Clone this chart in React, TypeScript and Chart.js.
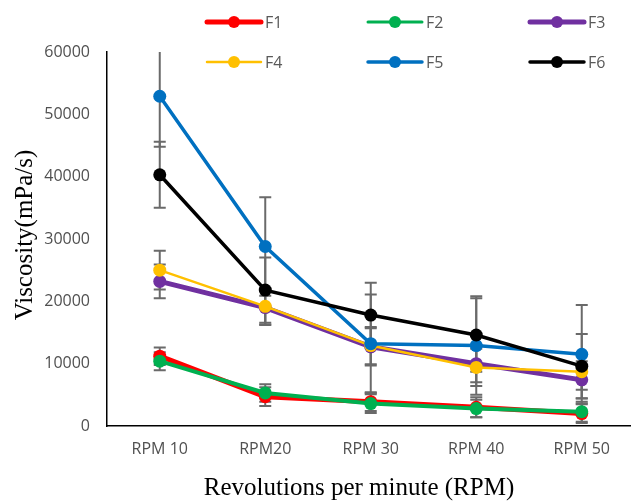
import React, { useEffect, useRef } from "react";
import { Chart, registerables } from "chart.js";

Chart.register(...registerables);

const categories = ["RPM 10", "RPM20", "RPM 30", "RPM 40", "RPM 50"];
const seriesNames = ["F1", "F2", "F3", "F4", "F5", "F6"];
const F1 = [11200, 4700, 3900, 3000, 2000];
const F2 = [10400, 5300, 3600, 2800, 2300];
const F3 = [23200, 19000, 12700, 10000, 7400];
const F4 = [25000, 19200, 12900, 9400, 8700];
const F5 = [52900, 28800, 13200, 12900, 11500];
const F6 = [40300, 21800, 17800, 14600, 9600];
const F1err = [1400, 1500, 1500, 1600, 1500];
const F2err = [1450, 1400, 1500, 1400, 1600];
const F3err = [2700, 2800, 3000, 3000, 3000];
const F4err = [3100, 2900, 3000, 3000, 2900];
const F5err = [8100, 7900, 7900, 7900, 7900];
const F6err = [5300, 5250, 5200, 5900, 5150];
const yTicks = [0, 10000, 20000, 30000, 40000, 50000, 60000];

const values = [F1, F2, F3, F4, F5, F6];
const errors = [F1err, F2err, F3err, F4err, F5err, F6err];
const colors = ["#FF0000", "#00B050", "#7030A0", "#FFC000", "#0070C0", "#000000"];
const lineWidths = [5, 4, 5, 2.5, 3.5, 3.5];
const legendLineWidths = [5, 3, 5, 2.5, 3.5, 3.5];

const errorBarPlugin = {
  id: "errorBars",
  beforeDatasetsDraw(chart: any) {
    const { ctx, chartArea } = chart;
    const yScale = chart.scales.y;
    ctx.save();
    ctx.beginPath();
    ctx.rect(chartArea.left, chartArea.top, chartArea.right - chartArea.left, chartArea.bottom - chartArea.top);
    ctx.clip();
    ctx.strokeStyle = "#6a6a6a";
    ctx.lineWidth = 2;
    chart.data.datasets.forEach((ds: any, di: number) => {
      const meta = chart.getDatasetMeta(di);
      const errs = ds.errors as number[];
      meta.data.forEach((pt: any, i: number) => {
        const v = ds.data[i];
        const e = errs[i];
        const x = pt.x;
        const yTop = yScale.getPixelForValue(v + e);
        const yBot = yScale.getPixelForValue(v - e);
        ctx.beginPath();
        ctx.moveTo(x, yTop);
        ctx.lineTo(x, yBot);
        ctx.moveTo(x - 6, yTop);
        ctx.lineTo(x + 6, yTop);
        ctx.moveTo(x - 6, yBot);
        ctx.lineTo(x + 6, yBot);
        ctx.stroke();
      });
    });
    ctx.restore();
  },
};

const decorPlugin = {
  id: "decor",
  afterDraw(chart: any) {
    const { ctx } = chart;
    ctx.save();
    // legend
    const colX = [207, 368, 530];
    const rowY = [22, 62];
    chart.data.datasets.forEach((ds: any, i: number) => {
      const x0 = colX[i % 3];
      const y = rowY[Math.floor(i / 3)];
      ctx.strokeStyle = ds.borderColor;
      ctx.lineWidth = legendLineWidths[i];
      ctx.lineCap = "round";
      ctx.beginPath();
      ctx.moveTo(x0, y);
      ctx.lineTo(x0 + 54, y);
      ctx.stroke();
      ctx.fillStyle = ds.borderColor;
      ctx.beginPath();
      ctx.arc(x0 + 27, y, 6, 0, Math.PI * 2);
      ctx.fill();
      ctx.fillStyle = "#595959";
      ctx.font = "16px 'Open Sans'";
      ctx.textBaseline = "middle";
      ctx.textAlign = "left";
      ctx.fillText(ds.label, x0 + 58, y + 1);
    });
    // axis titles
    ctx.fillStyle = "#000000";
    ctx.font = "25px 'Liberation Serif'";
    ctx.textAlign = "center";
    ctx.textBaseline = "alphabetic";
    ctx.fillText("Revolutions per minute (RPM)", 359, 495);
    ctx.translate(32, 235);
    ctx.rotate(-Math.PI / 2);
    ctx.fillText("Viscosity(mPa/s)", 0, 0);
    ctx.restore();
  },
};

export default function App() {
  const ref = useRef<HTMLCanvasElement>(null);
  useEffect(() => {
    if (!ref.current) return;
    const chart = new Chart(ref.current, {
      type: "line",
      data: {
        labels: categories,
        datasets: values.map((d, i) => ({
          label: seriesNames[i],
          data: d,
          errors: errors[i],
          borderColor: colors[i],
          backgroundColor: colors[i],
          borderWidth: lineWidths[i],
          pointRadius: 6.5,
          pointHoverRadius: 6.5,
          pointBorderWidth: 0,
          pointBackgroundColor: colors[i],
          tension: 0,
          order: 6 - i,
        })) as any,
      },
      options: {
        responsive: false,
        animation: false,
        events: [],
        layout: { padding: { top: 52, left: 0, right: 0, bottom: 0 } },
        plugins: { legend: { display: false }, tooltip: { enabled: false } },
        scales: {
          x: {
            type: "category",
            offset: true,
            grid: { display: false, drawTicks: false },
            border: { display: true, color: "#000000", width: 1.5 },
            ticks: { color: "#505050", font: { family: "'Open Sans'", size: 16 }, padding: 14, maxRotation: 0 },
            afterFit: (s: any) => { s.height = 75; },
          },
          y: {
            min: 0,
            max: 60000,
            afterBuildTicks: (s: any) => { s.ticks = yTicks.map((v) => ({ value: v })); },
            grid: { display: false, drawTicks: false },
            border: { display: true, color: "#000000", width: 1.5 },
            ticks: {
              color: "#505050",
              font: { family: "'Open Sans'", size: 16 },
              padding: 17,
              callback: (v: any) => String(v),
            },
            afterFit: (s: any) => { s.width = 107; },
          },
        },
      },
      plugins: [errorBarPlugin, decorPlugin],
    } as any);
    return () => chart.destroy();
  }, []);
  return (
    <div style={{ position: "absolute", left: 0, top: 0, width: 631, height: 501, overflow: "hidden", background: "#fff" }}>
      <canvas ref={ref} width={641} height={501} style={{ display: "block" }} />
    </div>
  );
}
